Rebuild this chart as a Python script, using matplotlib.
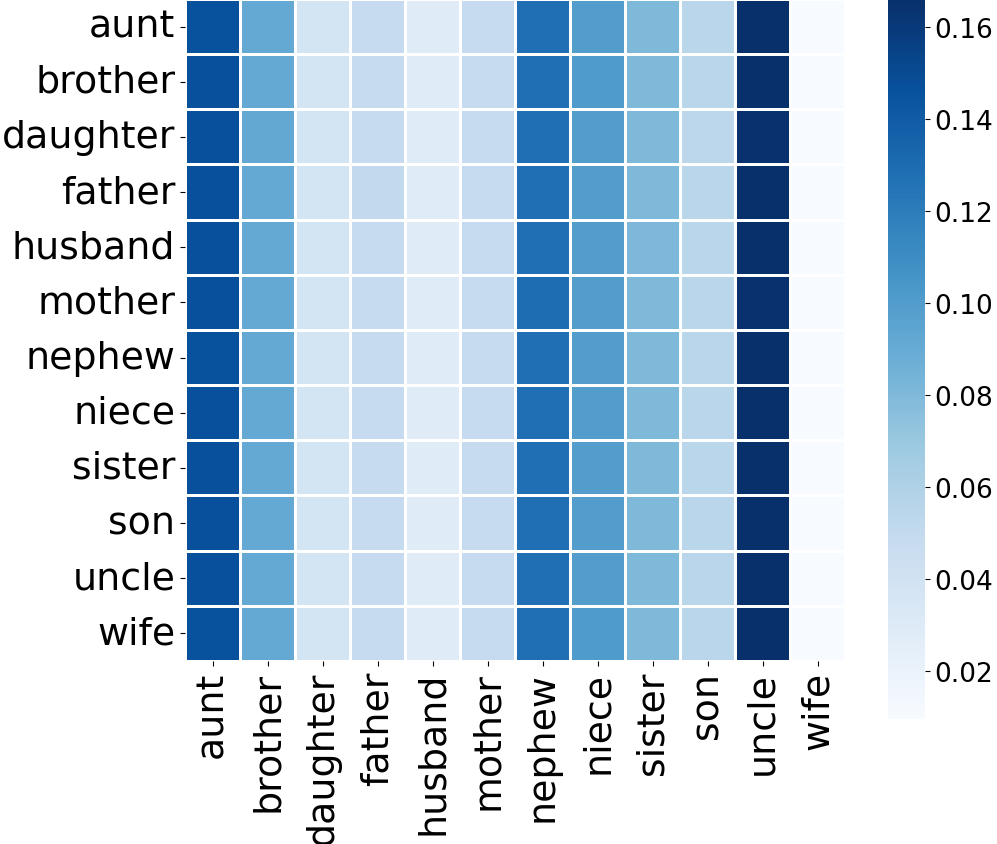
import numpy as np
import matplotlib
matplotlib.use("Agg")
import matplotlib.pyplot as plt
import seaborn as sns

words = ["aunt", "brother", "daughter", "father", "husband", "mother",
         "nephew", "niece", "sister", "son", "uncle", "wife"]

# rows: context word, columns: predicted word
scores = np.array([
    [0.146, 0.091, 0.038, 0.049, 0.029, 0.049, 0.128, 0.100, 0.080, 0.055, 0.166, 0.0096],
    [0.147, 0.091, 0.038, 0.049, 0.029, 0.049, 0.128, 0.101, 0.080, 0.055, 0.166, 0.0097],
    [0.147, 0.092, 0.038, 0.049, 0.029, 0.049, 0.128, 0.100, 0.080, 0.054, 0.165, 0.0096],
    [0.147, 0.091, 0.038, 0.050, 0.029, 0.049, 0.128, 0.100, 0.080, 0.055, 0.166, 0.0097],
    [0.147, 0.091, 0.038, 0.049, 0.029, 0.049, 0.128, 0.100, 0.081, 0.055, 0.166, 0.0096],
    [0.147, 0.091, 0.038, 0.049, 0.029, 0.049, 0.129, 0.100, 0.080, 0.055, 0.165, 0.0097],
    [0.146, 0.091, 0.038, 0.049, 0.029, 0.049, 0.128, 0.100, 0.080, 0.055, 0.166, 0.0096],
    [0.147, 0.091, 0.038, 0.049, 0.029, 0.049, 0.128, 0.100, 0.080, 0.055, 0.166, 0.0097],
    [0.147, 0.091, 0.038, 0.049, 0.029, 0.049, 0.128, 0.100, 0.080, 0.055, 0.166, 0.0096],
    [0.147, 0.091, 0.038, 0.049, 0.029, 0.049, 0.128, 0.100, 0.080, 0.055, 0.166, 0.0097],
    [0.147, 0.091, 0.038, 0.049, 0.029, 0.049, 0.128, 0.100, 0.080, 0.055, 0.166, 0.0096],
    [0.146, 0.091, 0.038, 0.049, 0.029, 0.049, 0.128, 0.101, 0.080, 0.055, 0.166, 0.0097],
])

cbar_ticks = [0.02, 0.04, 0.06, 0.08, 0.10, 0.12, 0.14, 0.16]

fig = plt.figure(figsize=(9.97, 8.45), dpi=100)
ax = fig.add_axes([0.1856, 0.2166, 0.662, 0.7834])
cax = fig.add_axes([0.8907, 0.148, 0.0371, 0.852])

sns.heatmap(scores, ax=ax, cbar_ax=cax, cmap="Blues", linewidths=0.8,
            linecolor="white", xticklabels=words, yticklabels=words)

ax.tick_params(axis="both", labelsize=27.3, length=3.5, width=0.8)
plt.setp(ax.get_xticklabels(), rotation=90)
plt.setp(ax.get_yticklabels(), rotation=0)

cax.set_yticks(cbar_ticks)
cax.set_yticklabels(["%.2f" % t for t in cbar_ticks])
cax.tick_params(labelsize=19, length=3.5, width=0.8)

fig.savefig("out.png", dpi=100)
